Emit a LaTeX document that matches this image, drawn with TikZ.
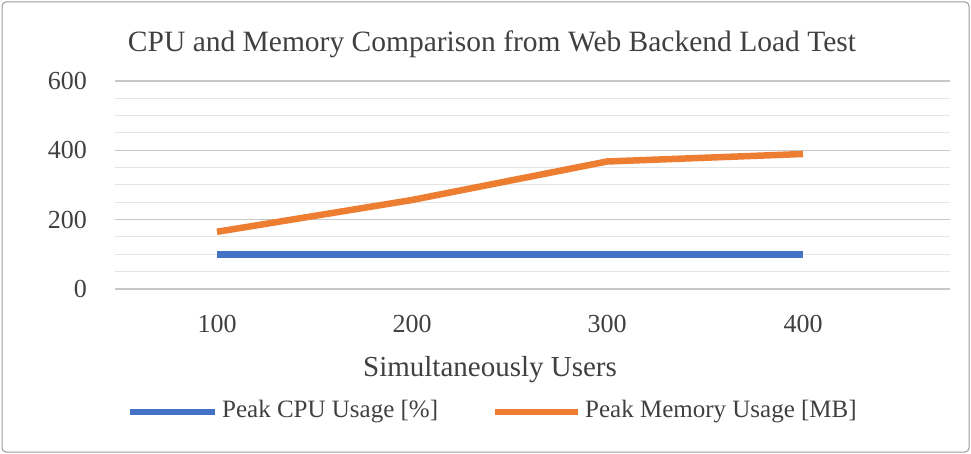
\documentclass[tikz,border=0pt]{standalone}
\usepackage{fontspec}
\setmainfont{Liberation Serif}
\definecolor{cblue}{HTML}{4472C4}
\definecolor{corange}{HTML}{ED7D31}
\begin{document}
\begin{tikzpicture}[x=1pt,y=-1pt,
  major/.style={draw=black!22,line width=1.5pt},
  minor/.style={draw=black!10,line width=1pt},
  series/.style={line width=6.5pt,line join=round},
  lbl/.style={font=\fontsize{26}{28}\selectfont,text=black!75,inner sep=0pt}]
\useasboundingbox (0,0) rectangle (971,454);
\draw[black!40,line width=1pt,rounded corners=4pt] (2,2) rectangle (969,452);
\node[lbl,font=\fontsize{29.5}{31}\selectfont] (title) at (492,44) {CPU and Memory Comparison from Web Backend Load Test};
\foreach \v in {50,100,150,250,300,350,450,500,550}
  \draw[minor] (115,{289-\v*0.3467}) -- (950,{289-\v*0.3467});
\foreach \v in {200,400,600}
  \draw[major] (115,{289-\v*0.3467}) -- (950,{289-\v*0.3467});
\draw[major] (115,289) -- (950,289);
\foreach \v in {0,200,400,600}
  \node[lbl,anchor=east] at (87,{289-\v*0.3467}) {\v};
\foreach \v/\x in {100/217,200/412,300/607,400/803}
  \node[lbl] at (\x,324) {\v};
\node[lbl,font=\fontsize{29}{31}\selectfont] (xt) at (490,370) {Simultaneously Users};
\coordinate (c1) at (217,254.3); \coordinate (c4) at (803,254.3);
\draw[series,cblue] (c1) -- (c4);
\coordinate (m1) at (217,231.8); \coordinate (m2) at (412,200);
\coordinate (m3) at (607,161.5); \coordinate (m4) at (803,154);
\draw[series,corange] (m1) -- (m2) -- (m3) -- (m4);
\coordinate (l1a) at (130,412); \coordinate (l1b) at (215,412);
\draw[series,cblue] (l1a) -- (l1b);
\node[lbl,font=\fontsize{25}{27}\selectfont,anchor=west] (lg1) at (222,412) {Peak CPU Usage [\%]};
\coordinate (l2a) at (495,412); \coordinate (l2b) at (578,412);
\draw[series,corange] (l2a) -- (l2b);
\node[lbl,font=\fontsize{25}{27}\selectfont,anchor=west] (lg2) at (585,412) {Peak Memory Usage [MB]};
\end{tikzpicture}
\end{document}
